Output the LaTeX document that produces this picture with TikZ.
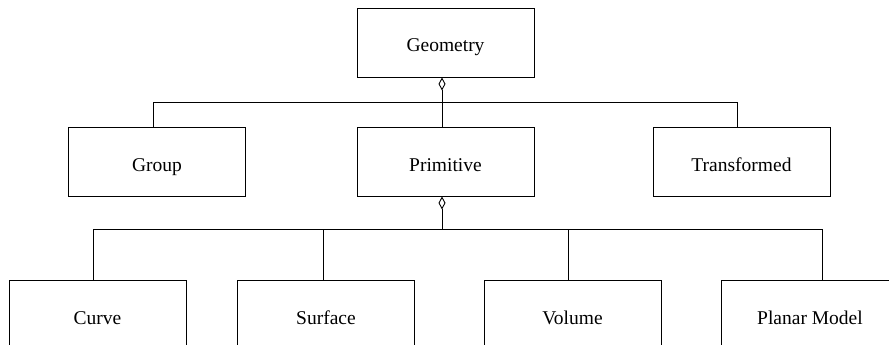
\documentclass[tikz,border=0pt]{standalone}
\usepackage{fontspec}
\setmainfont{Liberation Serif}
\usetikzlibrary{arrows.meta}
\begin{document}
\begin{tikzpicture}[x=1pt,y=-1pt,
  cls/.style={draw, line width=0.9pt, minimum width=177pt, minimum height=69pt, inner sep=0pt,
    text height=22pt, text depth=3pt,
    font=\fontsize{19.5}{22}\selectfont, fill=white},
  link/.style={line width=0.9pt},
  agg/.style={line width=0.9pt, {Diamond[open,length=13pt,width=7pt]}-}]
\useasboundingbox (0,0) rectangle (889,345);
\clip (0,0) rectangle (889,345);
% row 1
\node[cls] (geo) at (445.5,42.5) {Geometry};
% row 2
\node[cls] (group) at (157,161.5) {Group};
\node[cls] (prim) at (445.5,161.5) {Primitive};
\node[cls] (trans) at (741.5,161.5) {Transformed};
% row 3
\node[cls] (curve) at (97.5,314.5) {Curve};
\node[cls] (surf) at (326,314.5) {Surface};
\node[cls] (vol) at (572.5,314.5) {Volume};
\node[cls] (planar) at (810,314.5) {Planar Model};
% bus coordinates
\coordinate (b1g) at (153,102);
\coordinate (b1p) at (442,102);
\coordinate (b1t) at (737,102);
\coordinate (b2c) at (93,229);
\coordinate (b2p) at (442,229);
\coordinate (b2s) at (323,229);
\coordinate (b2v) at (568,229);
\coordinate (b2m) at (822,229);
% level 1
\draw[agg] (geo.south -| b1p) -- (b1p);
\draw[link] (b1p) -- (b1p |- prim.north);
\draw[link] (b1g |- group.north) -- (b1g) -- (b1t) -- (b1t |- trans.north);
% level 2
\draw[agg] (prim.south -| b2p) -- (b2p);
\draw[link] (b2c |- curve.north) -- (b2c) -- (b2m) -- (b2m |- planar.north);
\draw[link] (b2s) -- (b2s |- surf.north);
\draw[link] (b2v) -- (b2v |- vol.north);
\end{tikzpicture}
\end{document}
